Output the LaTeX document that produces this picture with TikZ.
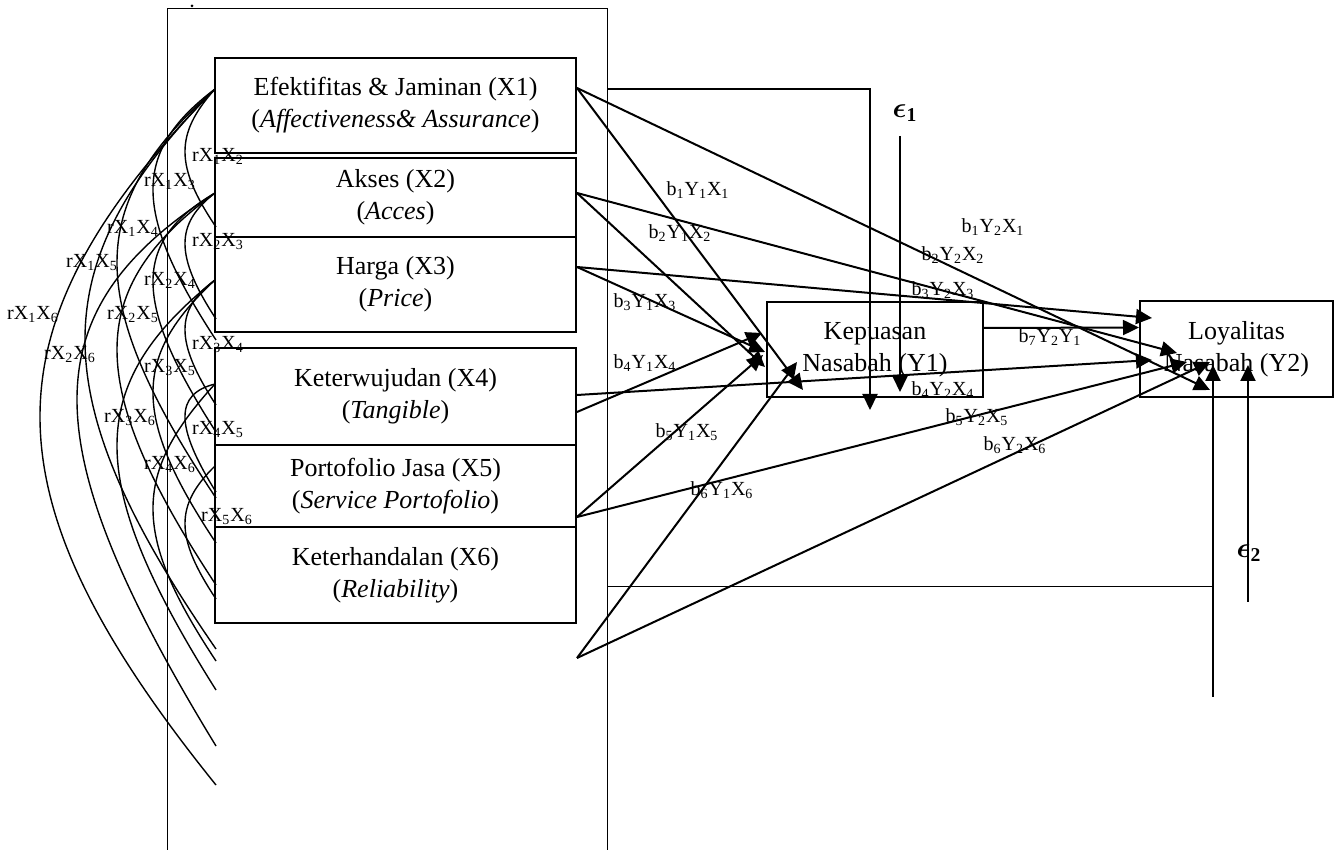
\documentclass[tikz,border=0pt]{standalone}
\usepackage{fontspec}
\setmainfont{Liberation Serif}
\usepackage{amsmath}
\usetikzlibrary{arrows.meta,positioning,calc}

\newcommand{\bY}[3]{b\textsubscript{#1}Y\textsubscript{#2}X\textsubscript{#3}}
\newcommand{\rX}[2]{rX\textsubscript{#1}X\textsubscript{#2}}
% correlation arc through start, apex, end (#4 = roundness)
\newcommand{\corr}[4]{\draw[rline] (#1) .. controls ($1.3333*(#2)-0.16667*(#1)-0.16667*(#3)+(0,-#4)$)
  and ($1.3333*(#2)-0.16667*(#1)-0.16667*(#3)+(0,#4)$) .. (#3);}

\begin{document}
\begin{tikzpicture}[x=0.5pt,y=-0.5pt,>={Triangle[length=8pt,width=7.5pt]},
  box/.style={draw,line width=1pt,minimum width=180.5pt,align=center,inner sep=0pt,font=\fontsize{13}{16}\selectfont},
  arr/.style={->,line width=1pt},
  rline/.style={line width=0.7pt},
  frame/.style={line width=0.5pt},
  eps/.style={font=\fontsize{14}{16}\selectfont\bfseries},
  lbl/.style={inner sep=0pt,font=\fontsize{10}{12}\selectfont}]
  \useasboundingbox (0,0) rectangle (1341,850);

  % outer frame
  \draw[frame] (167,850) -- (167,9) -- (607,9) -- (607,850);
  \fill (192,6) circle (1.5);

  % exogenous variables
  \node[box,minimum height=47.5pt] (x1) at (395.5,105.5) {Efektifitas \& Jaminan (X1)\\(\textit{Affectiveness\& Assurance})};
  \node[box,minimum height=39.5pt] (x2) at (395.5,197.5) {Akses (X2)\\(\textit{Acces})};
  \node[box,minimum height=47.5pt] (x3) at (395.5,284.5) {Harga (X3)\\(\textit{Price})};
  \node[box,minimum height=48.5pt] (x4) at (395.5,396.5) {Keterwujudan (X4)\\(\textit{Tangible})};
  \node[box,minimum height=41pt] (x5) at (395.5,486) {Portofolio Jasa (X5)\\(\textit{Service Portofolio})};
  \node[box,minimum height=48pt] (x6) at (395.5,575) {Keterhandalan (X6)\\(\textit{Reliability})};

  % endogenous variables
  \node[box,minimum width=108pt,minimum height=47.5pt] (y1) at (875,349.5) {Kepuasan\\Nasabah (Y1)};
  \node[box,minimum width=96.5pt,minimum height=48pt] (y2) at (1236.5,349) {Loyalitas\\Nasabah (Y2)};

  % path start points
  \coordinate (o1) at (577,88);
  \coordinate (o2) at (577,193);
  \coordinate (o3) at (577,267);
  \coordinate (o4) at (577,412);
  \coordinate (o4b) at (577,395);
  \coordinate (o5) at (577,517);
  \coordinate (o6) at (577,658);
  % tips at Y1
  \coordinate (t11) at (803,390);
  \coordinate (t12) at (765,367);
  \coordinate (t13) at (765,352);
  \coordinate (t14) at (762,333);
  \coordinate (t15) at (763,355);
  \coordinate (t16) at (797,362);
  % tips at Y2
  \coordinate (t21) at (1210,390);
  \coordinate (t22) at (1177,353);
  \coordinate (t23) at (1152,318);
  \coordinate (t24) at (1152,360);
  \coordinate (t25) at (1187,362);
  \coordinate (t26) at (1210,362);

  \draw[arr] (o1) -- (t11);
  \draw[arr] (o2) -- (t12);
  \draw[arr] (o3) -- (t13);
  \draw[arr] (o4) -- (t14);
  \draw[arr] (o5) -- (t15);
  \draw[arr] (o6) -- (t16);
  \draw[arr] (o1) -- (t21);
  \draw[arr] (o2) -- (t22);
  \draw[arr] (o3) -- (t23);
  \draw[arr] (o4b) -- (t24);
  \draw[arr] (o5) -- (t25);
  \draw[arr] (o6) -- (t26);
  \draw[arr] ([yshift=10.75pt]y1.east) -- ([yshift=10.75pt]y2.west);

  % error terms
  \coordinate (f1) at (607,89);
  \coordinate (f2) at (870,89);
  \coordinate (f3) at (870,410);
  \draw[arr] (f1) -- (f2) -- (f3);
  \node[eps] (eps1) at (905,113) {$\boldsymbol{\epsilon}$\textsubscript{1}};
  \coordinate (e1a) at (900,136);
  \coordinate (e1b) at (900,392);
  \draw[arr] (e1a) -- (e1b);

  \coordinate (g1) at (607,587);
  \coordinate (g2) at (1213,587);
  \coordinate (g3) at (1213,697);
  \coordinate (g4) at (1213,365);
  \draw[frame] (g1) -- (g2);
  \draw[arr] (g3) -- (g4);
  \node[eps] (eps2) at (1249,553) {$\boldsymbol{\epsilon}$\textsubscript{2}};
  \coordinate (e2a) at (1248,602);
  \coordinate (e2b) at (1248,365);
  \draw[arr] (e2a) -- (e2b);

  % path labels
  \node[lbl] (b11) at (698,190) {\bY{1}{1}{1}};
  \node[lbl] (b12) at (680,233) {\bY{2}{1}{2}};
  \node[lbl] (b13) at (645,302) {\bY{3}{1}{3}};
  \node[lbl] (b14) at (645,363) {\bY{4}{1}{4}};
  \node[lbl] (b15) at (687,432) {\bY{5}{1}{5}};
  \node[lbl] (b16) at (722,490) {\bY{6}{1}{6}};
  \node[lbl] (b21) at (993,227) {\bY{1}{2}{1}};
  \node[lbl] (b22) at (953,255) {\bY{2}{2}{2}};
  \node[lbl] (b23) at (943,290) {\bY{3}{2}{3}};
  \node[lbl] (b24) at (943,390) {\bY{4}{2}{4}};
  \node[lbl] (b25) at (977,417) {\bY{5}{2}{5}};
  \node[lbl] (b26) at (1015,445) {\bY{6}{2}{6}};
  \node[lbl] (b27) at (1050,337) {b\textsubscript{7}Y\textsubscript{2}Y\textsubscript{1}};

  % correlations: start, apex, end
  \coordinate (l1) at (215,89);
  \coordinate (l2) at (215,193);
  \coordinate (l3) at (215,280);
  \coordinate (l4) at (215,384);
  \coordinate (l5) at (215,466);
  \coordinate (a12) at (185,152);  \coordinate (m12) at (216,227);
  \coordinate (a23) at (185,244);  \coordinate (m23) at (216,319);
  \coordinate (a34) at (185,330);  \coordinate (m34) at (216,405);
  \coordinate (a45) at (185,417);  \coordinate (m45) at (216,492);
  \coordinate (a56) at (185,524);  \coordinate (m56) at (216,599);
  \coordinate (a13) at (153,190);  \coordinate (m13) at (216,340);
  \coordinate (a24) at (153,282);  \coordinate (m24) at (216,432);
  \coordinate (a35) at (153,393);  \coordinate (m35) at (216,543);
  \coordinate (a46) at (153,509);  \coordinate (m46) at (216,661);
  \coordinate (a14) at (117,263);  \coordinate (m14) at (216,498);
  \coordinate (a25) at (117,350);  \coordinate (m25) at (216,585);
  \coordinate (a36) at (117,446);  \coordinate (m36) at (216,690);
  \coordinate (a15) at (85,340);   \coordinate (m15) at (216,649);
  \coordinate (a26) at (77,400);   \coordinate (m26) at (216,746);
  \coordinate (a16) at (40,417);   \coordinate (m16) at (216,785);
  \corr{l1}{a12}{m12}{16}
  \corr{l1}{a13}{m13}{30}
  \corr{l1}{a14}{m14}{48}
  \corr{l1}{a15}{m15}{66}
  \corr{l1}{a16}{m16}{84}
  \corr{l2}{a23}{m23}{16}
  \corr{l2}{a24}{m24}{30}
  \corr{l2}{a25}{m25}{48}
  \corr{l2}{a26}{m26}{66}
  \corr{l3}{a34}{m34}{16}
  \corr{l3}{a35}{m35}{30}
  \corr{l3}{a36}{m36}{48}
  \corr{l4}{a45}{m45}{16}
  \corr{l4}{a46}{m46}{30}
  \corr{l5}{a56}{m56}{16}

  \node[lbl] (r12) at (218,156) {\rX{1}{2}};
  \node[lbl] (r13) at (170,182) {\rX{1}{3}};
  \node[lbl] (r14) at (133,228) {\rX{1}{4}};
  \node[lbl] (r15) at (92,263) {\rX{1}{5}};
  \node[lbl] (r16) at (33,315) {\rX{1}{6}};
  \node[lbl] (r23) at (218,242) {\rX{2}{3}};
  \node[lbl] (r24) at (170,280) {\rX{2}{4}};
  \node[lbl] (r25) at (133,315) {\rX{2}{5}};
  \node[lbl] (r26) at (70,355) {\rX{2}{6}};
  \node[lbl] (r34) at (218,345) {\rX{3}{4}};
  \node[lbl] (r35) at (170,368) {\rX{3}{5}};
  \node[lbl] (r36) at (130,418) {\rX{3}{6}};
  \node[lbl] (r45) at (218,430) {\rX{4}{5}};
  \node[lbl] (r46) at (170,465) {\rX{4}{6}};
  \node[lbl] (r56) at (227,517) {\rX{5}{6}};
\end{tikzpicture}
\end{document}
